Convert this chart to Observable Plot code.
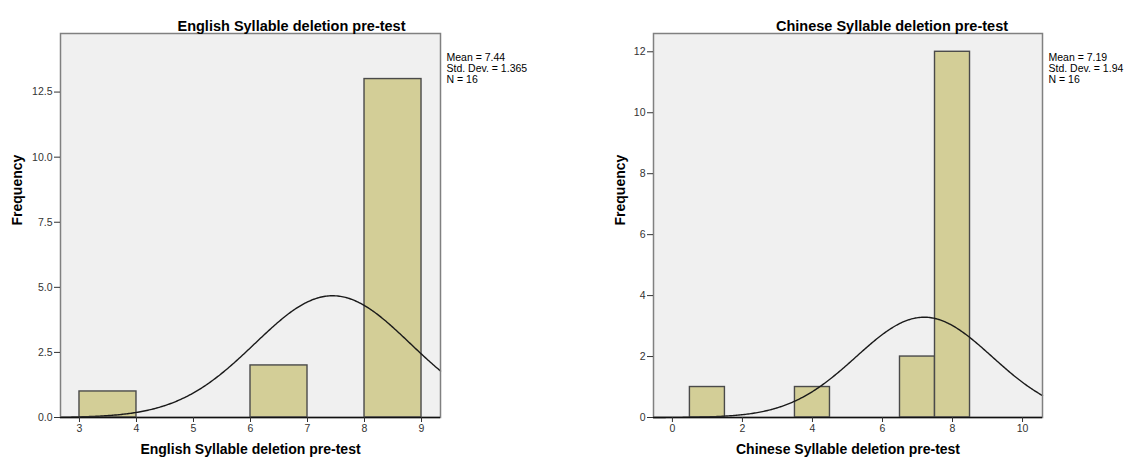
<!DOCTYPE html>
<html><head><meta charset="utf-8">
<script src="https://cdn.jsdelivr.net/npm/d3@7"></script>
<script src="https://cdn.jsdelivr.net/npm/@observablehq/plot@0.6"></script>
<style>
body{margin:0;background:#fff;width:1124px;height:461px;overflow:hidden;font-family:"Liberation Sans",Arial,sans-serif}
#wrap{position:relative;width:1124px;height:461px}
.panel{position:absolute;top:0}
</style></head><body>
<div id="wrap"><div id="left" class="panel" style="left:0"></div><div id="right" class="panel" style="left:562px"></div></div>
<script>
// English panel data
const engTitle = "English Syllable deletion pre-test";
const engBinStart = [3, 6, 8];
const engBinEnd = [4, 7, 9];
const engCounts = [1, 2, 13];
const engStats = {mean: 7.44, sd: 1.365, n: 16};
const engXTicks = [3, 4, 5, 6, 7, 8, 9];
const engYTicks = [0, 2.5, 5, 7.5, 10, 12.5];

// Chinese panel data
const chiTitle = "Chinese Syllable deletion pre-test";
const chiBinStart = [0.5, 3.5, 6.5, 7.5];
const chiBinEnd = [1.5, 4.5, 7.5, 8.5];
const chiCounts = [1, 1, 2, 12];
const chiStats = {mean: 7.19, sd: 1.94, n: 16};
const chiXTicks = [0, 2, 4, 6, 8, 10];
const chiYTicks = [0, 2, 4, 6, 8, 10, 12];

const FONT = '"Liberation Sans", Arial, sans-serif';

function chart(o) {
  const bars = o.starts.map((s, i) => ({x1: s, x2: o.ends[i], y: o.counts[i]}));
  const binW = o.ends[0] - o.starts[0];
  const {mean, sd, n} = o.stats;
  const [a, b] = o.xDomain;
  const curve = d3.range(0, 301).map(i => {
    const x = a + (b - a) * i / 300;
    return {x, y: n * binW * Math.exp(-0.5 * ((x - mean) / sd) ** 2) / (sd * Math.sqrt(2 * Math.PI))};
  });
  return Plot.plot({
    width: 562, height: 461,
    marginLeft: o.ml, marginRight: o.mr, marginTop: 33, marginBottom: 44,
    style: {fontFamily: FONT, background: "transparent", overflow: "visible", color: "#333"},
    x: {domain: o.xDomain},
    y: {domain: o.yDomain},
    marks: [
      Plot.frame({fill: "#f0f0f0", stroke: null}),
      Plot.rectY(bars, {x1: "x1", x2: "x2", y: "y", fill: "#d3ce97", stroke: "#4a4a4a", strokeWidth: 1.4}),
      Plot.line(curve, {x: "x", y: "y", stroke: "#1a1a1a", strokeWidth: 1.4}),
      Plot.frame({stroke: "#808080", strokeWidth: 1.5}),
      Plot.ruleY([0], {stroke: "#111", strokeWidth: 1.3}),
      Plot.axisX({ticks: o.xTicks, tickFormat: d => String(d), tickSize: 5, tickPadding: 2, label: null, fontSize: 10.5}),
      Plot.axisY({ticks: o.yTicks, tickFormat: o.yFormat, tickSize: 6, tickPadding: 2, label: null, fontSize: 10.5}),
      Plot.text([o.title], {text: d => d, frameAnchor: "top", dx: o.titleDx, dy: -13, fontSize: 14.5, fontWeight: "bold", fill: "#000"}),
      Plot.text([o.title], {text: d => d, frameAnchor: "bottom", dy: 36, fontSize: 14, fontWeight: "bold", fill: "#000"}),
      Plot.text(["Frequency"], {text: d => d, frameAnchor: "left", dx: o.ylabDx, rotate: -90, fontSize: 14, fontWeight: "bold", fill: "#000"}),
      Plot.text([`Mean = ${mean}\nStd. Dev. = ${sd}\nN = ${n}`], {text: d => d, frameAnchor: "top-right", textAnchor: "start", lineAnchor: "top", dx: 6, dy: 20, fontSize: 10.5, lineHeight: 1.05, fill: "#000"})
    ]
  });
}

document.getElementById("left").append(chart({
  title: engTitle, starts: engBinStart, ends: engBinEnd, counts: engCounts, stats: engStats,
  xTicks: engXTicks, yTicks: engYTicks, yFormat: d3.format(".1f"),
  xDomain: [2.667, 9.333], yDomain: [0, 14.75], ml: 60, mr: 122, titleDx: 41, ylabDx: -43
}));
document.getElementById("right").append(chart({
  title: chiTitle, starts: chiBinStart, ends: chiBinEnd, counts: chiCounts, stats: chiStats,
  xTicks: chiXTicks, yTicks: chiYTicks, yFormat: d => String(d),
  xDomain: [-0.54, 10.57], yDomain: [0, 12.6], ml: 91, mr: 82, titleDx: 44, ylabDx: -33
}));
</script>
</body></html>
